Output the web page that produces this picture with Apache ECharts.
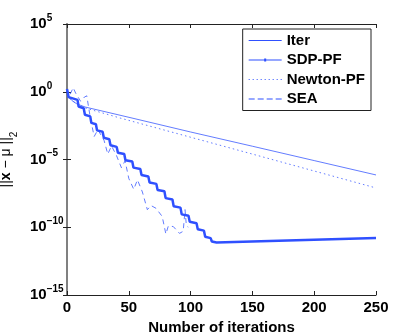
<!DOCTYPE html>
<html>
<head>
<meta charset="utf-8">
<script src="https://cdn.jsdelivr.net/npm/echarts@6/dist/echarts.min.js"></script>
<style>
  html, body { margin: 0; padding: 0; background: #fff; }
  #chart { width: 415px; height: 333px; }
</style>
</head>
<body>
<div id="chart"></div>
<script>
// values as log10 of the error
const iterX = [0, 1.3, 4, 8, 14.8, 52.6, 100, 150, 200, 250]
const iterLog = [0.1, -0.39, -0.65, -0.9, -1.13, -1.94, -2.97, -4.02, -5.08, -6.14]

const newtonX = [0, 1.3, 4, 8, 14.8, 43, 140, 250]
const newtonLog = [0.1, -0.39, -0.65, -0.9, -1.2, -1.94, -4.35, -7.1]

const sdpX = [0, 1.3, 8.5, 9.4, 13.5, 14.5, 18.8, 19.7, 23.4, 24.3, 28.8, 29.8, 34.2, 35.2,
  40.2, 41.2, 46.3, 47.3, 52.8, 53.8, 59.3, 60.3, 65.8, 66.8, 72.3, 73.3, 78.8, 79.8,
  85.3, 86.3, 91.8, 92.8, 98.3, 99.3, 104.8, 105.8, 110.8, 111.8, 116.2, 117.2, 121, 250]
const sdpLog = [0.2, -0.4, -0.6, -1.1, -1.22, -1.7, -1.82, -2.3, -2.4, -2.85, -2.95, -3.4, -3.5, -3.95,
  -4.07, -4.5, -4.6, -5.05, -5.15, -5.6, -5.7, -6.15, -6.25, -6.7, -6.8, -7.25, -7.35, -7.85,
  -7.95, -8.45, -8.55, -9.05, -9.15, -9.6, -9.7, -10.15, -10.25, -10.7, -10.8, -11.05, -11.12, -10.8]

const seaX = [0, 2, 5, 7, 11, 14, 16, 19, 22, 25, 30, 33, 36, 40, 44, 47, 50, 54, 57, 61,
  65, 68, 72, 77, 80, 82, 86, 91, 94, 95.5, 96.5, 98]
const seaLog = [0.2, -0.3, 0.3, -0.1, -0.7, -0.4, -0.3, -2.0, -3.3, -2.8, -3.6, -4.6, -4.0, -4.7, -5.6, -5.1, -6.4, -7.2, -6.5, -7.4,
  -8.7, -8.4, -8.6, -9.2, -10.5, -9.9, -9.95, -10.45, -10.3, -8.7, -9.8, -10.0]

const xTicks = [0, 50, 100, 150, 200, 250]
const yTickExp = [-15, -10, -5, 0, 5]

const blue = '#2f50ff'
const font = 'Liberation Sans, Arial, Helvetica, sans-serif'

// legend icons: tiny corner marks keep every icon box the same 33x14 size
const corners = 'M0,0h0.01v0.01h-0.01z M33,14h-0.01v-0.01h0.01z '
const iconSolid = 'path://' + corners + 'M0,6.5h33v1h-33z'
const iconMarked = 'path://' + corners + 'M0,6.5h33v1h-33z M15.5,5.5h2v3h-2z'
const iconDotted = 'path://' + corners + 'M0,6.5h1v1h-1z M4,6.5h1v1h-1z M8,6.5h1v1h-1z M12,6.5h1v1h-1z M16,6.5h1v1h-1z M20,6.5h1v1h-1z M24,6.5h1v1h-1z M28,6.5h1v1h-1z M32,6.5h1v1h-1z'
const iconDashed = 'path://' + corners + 'M0,6.5h6v1h-6z M9,6.5h6v1h-6z M18,6.5h6v1h-6z M27,6.5h6v1h-6z'

function pairs(xs, logs) {
  return xs.map((x, i) => [x, Math.pow(10, logs[i])])
}

const chart = echarts.init(document.getElementById('chart'))

chart.setOption({
  animation: false,
  backgroundColor: '#fff',
  grid: {left: 67, right: 39, top: 24, bottom: 38, outerBoundsMode: 'none', containLabel: false},
  legend: {
    orient: 'vertical',
    right: 44,
    top: 29,
    padding: [4, 6, 4, 6],
    itemWidth: 33,
    itemHeight: 14,
    itemGap: 4.5,
    borderColor: '#222',
    borderWidth: 1,
    backgroundColor: '#fff',
    textStyle: {fontFamily: font, fontSize: 15, fontWeight: 'bold', color: '#000'},
    data: [
      {name: 'Iter', icon: iconSolid},
      {name: 'SDP-PF', icon: iconMarked},
      {name: 'Newton-PF', icon: iconDotted},
      {name: 'SEA', icon: iconDashed}
    ]
  },
  xAxis: [{
    type: 'value',
    min: xTicks[0],
    max: xTicks[xTicks.length - 1],
    interval: 50,
    name: 'Number of iterations',
    nameLocation: 'middle',
    nameGap: 18,
    nameTextStyle: {fontFamily: font, fontSize: 15, fontWeight: 'bold', color: '#000'},
    axisLine: {lineStyle: {color: '#222', width: 1}},
    axisTick: {inside: true, length: 4, lineStyle: {color: '#222'}},
    axisLabel: {fontFamily: font, fontSize: 15, fontWeight: 'bold', color: '#000', margin: 5},
    splitLine: {show: false}
  }, {
    type: 'value',
    position: 'top',
    min: xTicks[0],
    max: xTicks[xTicks.length - 1],
    interval: 50,
    axisLine: {lineStyle: {color: '#222', width: 1}},
    axisTick: {inside: true, length: 4, lineStyle: {color: '#222'}},
    axisLabel: {show: false},
    splitLine: {show: false}
  }],
  yAxis: [{
    type: 'log',
    logBase: 10,
    min: Math.pow(10, yTickExp[0]),
    max: Math.pow(10, yTickExp[yTickExp.length - 1]),
    interval: 5,
    name: '||{bx|x} − μ ||{sub|2}',
    nameLocation: 'middle',
    nameGap: 43,
    nameTextStyle: {
      fontFamily: font, fontSize: 14, color: '#000',
      rich: {
        bx: {fontFamily: font, fontSize: 14, fontWeight: 'bold', color: '#000'},
        sub: {fontFamily: font, fontSize: 10, color: '#000', verticalAlign: 'bottom', lineHeight: 10, padding: [0, 0, -6, 0]}
      }
    },
    axisLine: {lineStyle: {color: '#808080', width: 2}},
    axisTick: {inside: true, length: 4, lineStyle: {color: '#222'}},
    axisLabel: {
      align: 'left',
      margin: 37,
      formatter: v => {
        const e = Math.round(Math.log10(v))
        return '{b|10}{s|' + (e < 0 ? '−' + (-e) : e) + '}'
      },
      rich: {
        b: {fontFamily: font, fontSize: 15, fontWeight: 'bold', color: '#000', lineHeight: 22},
        s: {fontFamily: font, fontSize: 10, fontWeight: 'bold', color: '#000', lineHeight: 10, verticalAlign: 'top'}
      }
    },
    splitLine: {show: false},
    minorTick: {show: false}
  }, {
    type: 'log',
    logBase: 10,
    position: 'right',
    min: Math.pow(10, yTickExp[0]),
    max: Math.pow(10, yTickExp[yTickExp.length - 1]),
    interval: 5,
    axisLine: {lineStyle: {color: '#808080', width: 1.5}},
    axisTick: {inside: true, length: 4, lineStyle: {color: '#222'}},
    axisLabel: {show: false},
    splitLine: {show: false}
  }],
  series: [
    {
      name: 'Iter',
      type: 'line',
      data: pairs(iterX, iterLog),
      symbol: 'none',
      color: blue,
      lineStyle: {color: blue, width: 1, opacity: 0.75}
    },
    {
      name: 'SDP-PF',
      type: 'line',
      data: pairs(sdpX, sdpLog),
      symbol: 'none',
      color: blue,
      lineStyle: {color: blue, width: 2.5}
    },
    {
      name: 'Newton-PF',
      type: 'line',
      data: pairs(newtonX, newtonLog),
      symbol: 'none',
      color: blue,
      lineStyle: {color: blue, width: 1, type: [1.5, 3], opacity: 0.75}
    },
    {
      name: 'SEA',
      type: 'line',
      data: pairs(seaX, seaLog),
      symbol: 'none',
      color: blue,
      lineStyle: {color: blue, width: 1, type: [5, 4], opacity: 0.75}
    }
  ]
})
</script>
</body>
</html>
